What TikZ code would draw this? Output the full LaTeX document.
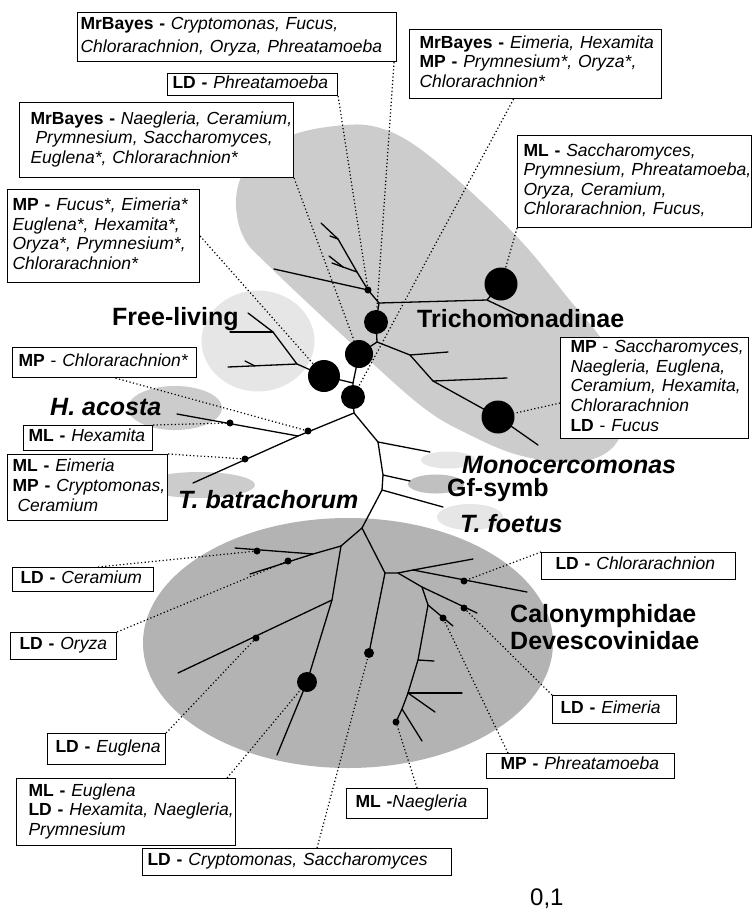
\documentclass[tikz,border=0pt]{standalone}
\usepackage{fontspec}
\setmainfont{Liberation Sans}
\newcommand{\lblfont}{\fontsize{17.5}{19.6}\selectfont}
\newcommand{\grpfont}{\fontsize{25}{28}\selectfont\bfseries}
\newcommand{\lbltab}[1]{\begin{tabular}{@{}l@{}}#1\end{tabular}}
\definecolor{gA}{HTML}{CCCCCC}
\definecolor{gL}{HTML}{E6E6E6}
\definecolor{gM}{HTML}{C0C0C0}
\definecolor{gD}{HTML}{B3B3B3}
\begin{document}
\begin{tikzpicture}[x=1pt,y=-1pt,
  br/.style={line width=1.3pt, line join=round, line cap=round},
  conn/.style={line width=1.2pt, dash pattern=on 1.2pt off 2.4pt},
  lbl/.style={draw, line width=1.1pt, fill=white, font=\lblfont, align=left, inner ysep=0pt, anchor=north west},
  sdot/.style={circle, fill=black, inner sep=0pt, minimum size=7pt},
  big/.style={circle, fill=black, inner sep=0pt},
  grp/.style={font=\grpfont, anchor=base west, inner sep=0pt}]
\fill[white] (0,0) rectangle (753,914);
\useasboundingbox (0,0) rectangle (753,914);
% ---------- shaded groups
\fill[gA] plot[smooth cycle, tension=0.6] coordinates {(236,205) (242,175) (262,151) (295,134) (335,126) (372,126) (410,142) (460,182) (520,240) (568,298) (607,348) (627,405) (614,446) (578,462) (522,456) (470,435) (420,405) (340,333) (268,265) (244,238)};
\filldraw[fill=gL, draw=white, line width=7pt] (258,341) ellipse [x radius=60pt, y radius=54pt];
\fill[gA] (175,408) ellipse [x radius=47pt, y radius=22pt];
\fill[gA] (199,485) ellipse [x radius=56pt, y radius=13pt];
\fill[gL] (448,460) ellipse [x radius=27pt, y radius=8.5pt];
\fill[gM] (436,484) ellipse [x radius=28pt, y radius=9.5pt];
\fill[gL] (470,517) ellipse [x radius=33pt, y radius=13pt];
\fill[gD] (348,643) ellipse [x radius=205pt, y radius=125pt];
% ---------- tree coordinates
\coordinate (A) at (368,290);
\coordinate (j1) at (338,239);
\coordinate (j2) at (343,267);
\coordinate (j3) at (357,272);
\coordinate (N1) at (379,303);
\coordinate (j4) at (487,300);
\coordinate (j5) at (377,342);
\coordinate (j6) at (410,355);
\coordinate (j7) at (433,381);
\coordinate (N2) at (353,383);
\coordinate (f1) at (297,364);
\coordinate (f2) at (273,332);
\coordinate (R) at (354,413);
\coordinate (hb) at (298,436);
\coordinate (m1) at (378,442);
\coordinate (m2) at (383,475);
\coordinate (m3) at (382,490);
\coordinate (m4) at (362,528);
\coordinate (k1) at (385,573);
\coordinate (k2) at (341,546);
\coordinate (k3) at (313,554);
\coordinate (k4) at (332,600);
\coordinate (k5) at (398,573);
\coordinate (k6) at (413,570);
\coordinate (k7) at (422,587);
\coordinate (k8) at (428,605);
\coordinate (k9) at (418,660);
\coordinate (k10) at (408,693);
\coordinate (k11) at (402,709);
% ---------- branches
\draw[br] (321,223) -- (j1) -- (j3) -- (A) -- (N1) -- (j4) -- (525,318);
\draw[br] (330,236) -- (j1);
\draw[br] (329,256) -- (j2) -- (j3);
\draw[br] (332,263) -- (j2);
\draw[br] (274,269) -- (A);
\draw[br] (j4) -- (501,284);
\draw[br] (N1) -- (376,322) -- (j5) -- (j6) -- (j7) -- (498,417) -- (538,445);
\draw[br] (j6) -- (448,352);
\draw[br] (j7) -- (507,378);
\draw[br] (j5) -- (359,354) -- (N2) -- (353,397) -- (R);
\draw[br] (N2) -- (324,376) -- (f1) -- (f2) -- (248,313);
\draw[br] (f2) -- (230,332);
\draw[br] (f1) -- (228,367);
\draw[br] (245,361) -- (255,366);
\draw[br] (R) -- (hb) -- (177,414);
\draw[br] (hb) -- (193,483);
\draw[br] (R) -- (m1) -- (m2) -- (m3) -- (m4);
\draw[br] (m1) -- (430,452);
\draw[br] (m2) -- (410,481);
\draw[br] (m3) -- (443,507);
\draw[br] (m4) -- (k1) -- (k5) -- (k6) -- (473,559);
\draw[br] (k6) -- (527,592);
\draw[br] (k5) -- (k7) -- (477,613);
\draw[br] (k7) -- (k8) -- (453,626);
\draw[br] (k8) -- (k9) -- (k10) -- (k11) -- (396,722);
\draw[br] (k9) -- (434,661);
\draw[br] (k10) -- (462,693);
\draw[br] (k10) -- (435,712);
\draw[br] (k11) -- (422,741);
\draw[br] (k1) -- (369,653);
\draw[br] (m4) -- (k2) -- (k3) -- (250,574);
\draw[br] (k3) -- (235,548);
\draw[br] (k2) -- (k4) -- (307,682) -- (277,755);
\draw[br] (k4) -- (178,673);
% ---------- support marks
\node[big, minimum size=24pt] (C1) at (376,322) {};
\node[big, minimum size=28pt] (C2) at (359,354) {};
\node[big, minimum size=32pt] (C3) at (324,376) {};
\node[big, minimum size=24pt] (C4) at (353,397) {};
\node[big, minimum size=33pt] (C5) at (501,284) {};
\node[big, minimum size=33pt] (C6) at (498,417) {};
\node[big, minimum size=20pt] (C7) at (307,682) {};
\node[sdot] (dA) at (368,290) {};
\node[sdot] (dMPc) at (308,431) {};
\node[sdot] (dHex) at (230,423) {};
\node[sdot] (dEim) at (245,459) {};
\node[sdot] (dCer) at (257,551) {};
\node[sdot] (dOry) at (288,561) {};
\node[sdot] (dEug) at (256,638) {};
\node[sdot, minimum size=10pt] (dCry) at (369,653) {};
\node[sdot] (dNae) at (396,722) {};
\node[sdot] (dPhr) at (443,618) {};
\node[sdot] (dEimL) at (464,608) {};
\node[sdot] (dChl) at (464,581) {};
% ---------- label boxes
\node[lbl, inner xsep=3pt, text width=313pt, minimum height=49pt] (b1) at (77,12)
 {\lbltab{\textbf{MrBayes -} \textit{Cryptomonas, Fucus,}\\[3.4pt] \textit{Chlorarachnion, Oryza, Phreatamoeba}}};
\node[lbl, inner xsep=5pt, text width=160pt, minimum height=22pt] (b2) at (167,73)
 {\lbltab{\textbf{LD -} \textit{Phreatamoeba}}};
\node[lbl, inner xsep=11pt, text width=252pt, minimum height=75pt] (b3) at (19,102)
 {\lbltab{\textbf{MrBayes -} \textit{Naegleria, Ceramium,}\\ \hspace*{5pt}\textit{Prymnesium, Saccharomyces,}\\ \textit{Euglena*, Chlorarachnion*}}};
\node[lbl, inner xsep=5pt, text width=182pt, minimum height=93pt] (b4) at (7,189)
 {\lbltab{\textbf{MP -} \textit{Fucus*, Eimeria*}\\ \textit{Euglena*, Hexamita*,}\\ \textit{Oryza*, Prymnesium*,}\\ \textit{Chlorarachnion*}}};
\node[lbl, inner xsep=10pt, text width=232pt, minimum height=69pt] (b5) at (409,29)
 {\lbltab{\textbf{MrBayes -} \textit{Eimeria, Hexamita}\\ \textbf{MP -} \textit{Prymnesium*, Oryza*,}\\ \textit{Chlorarachnion*}}};
\node[lbl, inner xsep=6pt, text width=222pt, minimum height=92pt] (b6) at (517,135)
 {\lbltab{\textbf{ML -} \textit{Saccharomyces,}\\ \textit{Prymnesium, Phreatamoeba,}\\ \textit{Oryza, Ceramium,}\\ \textit{Chlorarachnion, Fucus,}}};
\node[lbl, inner xsep=10pt, text width=168pt, minimum height=101pt] (b7) at (560,337)
 {\lbltab{\textbf{MP} - \textit{Saccharomyces,}\\ \textit{Naegleria, Euglena,}\\ \textit{Ceramium, Hexamita,}\\ \textit{Chlorarachnion}\\ \textbf{LD} - \textit{Fucus}}};
\node[lbl, inner xsep=6pt, text width=172pt, minimum height=30pt] (b8) at (12,347)
 {\lbltab{\textbf{MP} - \textit{Chlorarachnion*}}};
\node[lbl, inner xsep=5pt, text width=119pt, minimum height=25pt] (b9) at (23,425)
 {\lbltab{\textbf{ML -} \textit{Hexamita}}};
\node[lbl, inner xsep=5pt, text width=150pt, minimum height=66pt] (b10) at (7,454)
 {\lbltab{\textbf{ML -} \textit{Eimeria}\\ \textbf{MP -} \textit{Cryptomonas,}\\ \hspace*{5pt}\textit{Ceramium}}};
\node[lbl, inner xsep=8pt, text width=125pt, minimum height=24pt] (b11) at (12,567)
 {\lbltab{\textbf{LD -} \textit{Ceramium}}};
\node[lbl, inner xsep=9pt, text width=88pt, minimum height=27pt] (b12) at (10,632)
 {\lbltab{\textbf{LD -} \textit{Oryza}}};
\node[lbl, inner xsep=8pt, text width=102pt, minimum height=31pt] (b13) at (47,733)
 {\lbltab{\textbf{LD -} \textit{Euglena}}};
\node[lbl, inner xsep=12pt, text width=195pt, minimum height=67pt] (b14) at (16,778)
 {\lbltab{\textbf{ML -} \textit{Euglena}\\ \textbf{LD -} \textit{Hexamita, Naegleria,}\\ \textit{Prymnesium}}};
\node[lbl, inner xsep=5pt, text width=299pt, minimum height=27pt] (b15) at (142,848)
 {\lbltab{\textbf{LD -} \textit{Cryptomonas, Saccharomyces}}};
\node[lbl, inner xsep=9pt, text width=123pt, minimum height=30pt] (b16) at (346,788)
 {\lbltab{\textbf{ML -}\textit{Naegleria}}};
\node[lbl, inner xsep=14pt, text width=160pt, minimum height=25pt] (b17) at (486,753)
 {\lbltab{\textbf{MP -} \textit{Phreatamoeba}}};
\node[lbl, inner xsep=8pt, text width=108pt, minimum height=28pt] (b18) at (552,695)
 {\lbltab{\textbf{LD -} \textit{Eimeria}}};
\node[lbl, inner xsep=14pt, text width=166pt, minimum height=27pt] (b19) at (541,552)
 {\lbltab{\textbf{LD -} \textit{Chlorarachnion}}};
% ---------- dotted connectors
\draw[conn] (b3.south east) -- (C2);
\draw[conn] (b2.south east) -- (dA);
\draw[conn] ([xshift=-3pt]b1.south east) -- (C1);
\draw[conn] ([xshift=-22pt]b5.south) -- (C4);
\draw[conn] (b6.south west) -- (C5);
\draw[conn] ([yshift=-15pt]b7.west) -- (C6);
\draw[conn] (b4.east) -- (C3);
\draw[conn] ([xshift=11pt]b8.south) -- (dMPc);
\draw[conn] (b9.north east) -- (dHex);
\draw[conn] (b10.north east) -- (dEim);
\draw[conn] ([xshift=15pt]b11.north) -- (dCer);
\draw[conn] (b12.north east) -- (dOry);
\draw[conn] (b13.north east) -- (dEug);
\draw[conn] ([xshift=-9pt]b14.north east) -- (C7);
\draw[conn] ([xshift=20pt]b15.north) -- (dCry);
\draw[conn] (b16.north) -- (dNae);
\draw[conn] ([xshift=22pt]b17.north west) -- (dPhr);
\draw[conn] (b18.north west) -- (dEimL);
\draw[conn] (b19.north west) -- (dChl);
% ---------- group names
\node[grp] (gFree) at (112,325) {Free-living};
\node[grp] (gTri) at (417,327) {Trichomonadinae};
\node[grp] (gHac) at (50,415) {\textit{H. acosta}};
\node[grp] (gTba) at (178,508) {\textit{T. batrachorum}};
\node[grp] (gMon) at (462,473) {\textit{Monocercomonas}};
\node[grp] (gGf) at (447,496) {Gf-symb};
\node[grp] (gTfo) at (460,532) {\textit{T. foetus}};
\node[grp] (gCal) at (510,622) {Calonymphidae};
\node[grp] (gDev) at (510,649) {Devescovinidae};
\node[anchor=base west, inner sep=0pt, font=\fontsize{24}{28}\selectfont] (scl) at (530,905) {0,1};
\end{tikzpicture}
\end{document}
